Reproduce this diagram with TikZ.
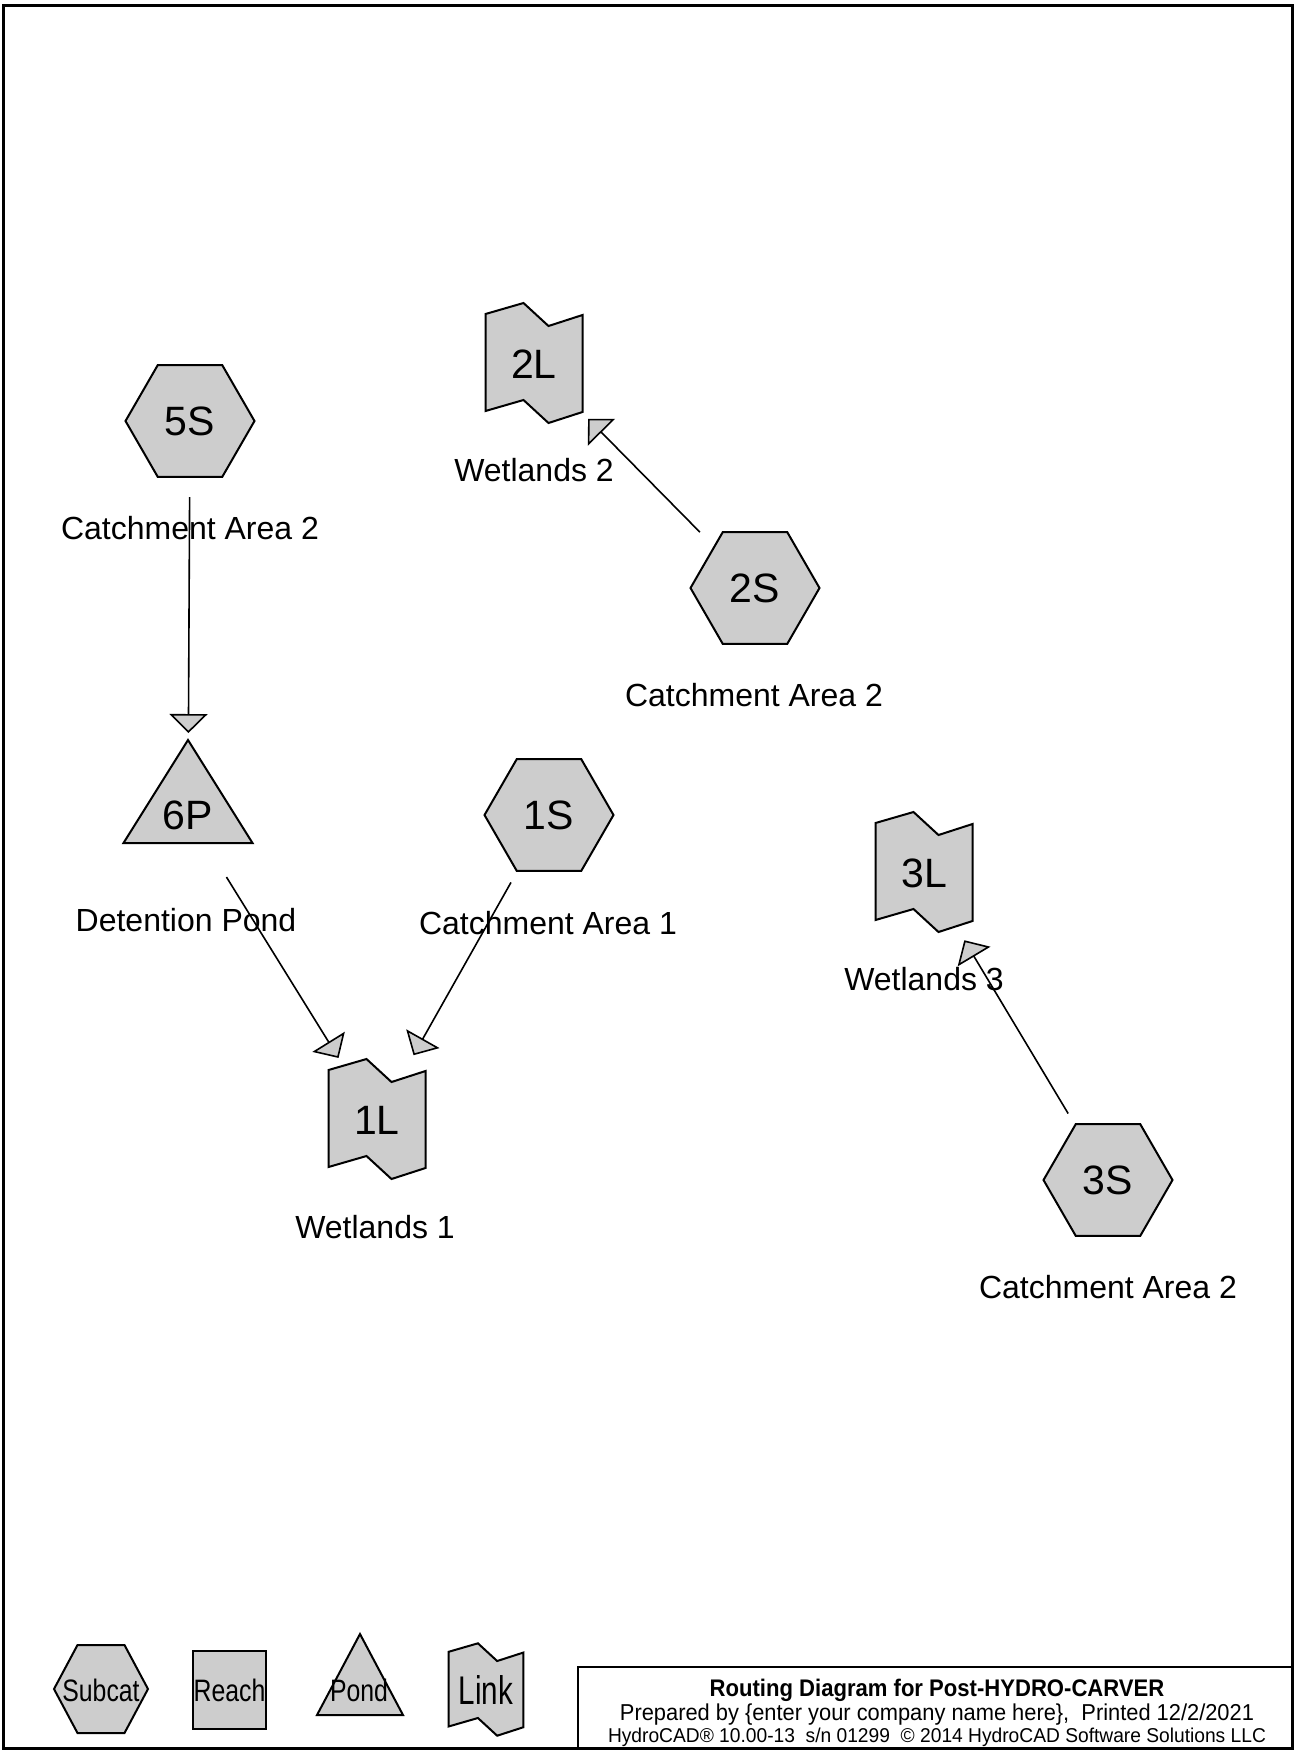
\documentclass[tikz,border=0pt]{standalone}
\usepackage{fontspec}
\setmainfont{Liberation Sans}
\usepackage{graphicx}
\usetikzlibrary{arrows.meta}
\definecolor{hcgray}{RGB}{205,205,205}
\tikzset{
  shp/.style={draw=black,line width=1pt,fill=hcgray,line join=miter},
  ntext/.style={inner sep=0pt,font=\fontsize{20.5pt}{23pt}\selectfont},
  lbl/.style={inner sep=0pt,font=\fontsize{16pt}{19pt}\selectfont},
  legtext/.style={inner sep=0pt,font=\fontsize{15.5pt}{18pt}\selectfont},
  flow/.style={draw=black,line width=0.8pt,-{Triangle[length=9.5pt,width=19pt,fill=hcgray]}},
  hexshape/.pic={\draw[shp] (-64.5,0) -- (-32.25,-55.86) -- (32.25,-55.86) -- (64.5,0) -- (32.25,55.86) -- (-32.25,55.86) -- cycle;},
  pondshape/.pic={\draw[shp] (0,-75) -- (64.5,28) -- (-64.5,28) -- cycle;},
  linkshape/.pic={\draw[shp] (-48.5,-49) -- (-10.5,-60) -- (14.5,-37) -- (48.5,-48) -- (48.5,49) -- (14.5,60) -- (-10.5,37) -- (-48.5,48) -- cycle;},
  leghex/.pic={\draw[shp] (-47,0) -- (-23.5,-44) -- (23.5,-44) -- (47,0) -- (23.5,44) -- (-23.5,44) -- cycle;},
  legpond/.pic={\draw[shp] (0,-57) -- (43,24) -- (-43,24) -- cycle;},
  legreach/.pic={\draw[shp] (-36.5,-39) rectangle (36.5,39);}
}
\begin{document}
\begin{tikzpicture}[x=0.5pt,y=-0.5pt]
\useasboundingbox (0,0) rectangle (1296,1751);
\draw[line width=1.5pt] (3,5) rectangle (1292,1748);

% nodes
\pic at (190,421) {hexshape};
\node[ntext] (5S) at (190,421) {5S};
\node[lbl] (5Sl) at (190,528) {Catchment Area 2};

\pic at (534,363) {linkshape};
\node[ntext] (2L) at (534,364) {2L};
\node[lbl] (2Ll) at (534,470) {Wetlands 2};

\pic at (755,588) {hexshape};
\node[ntext] (2S) at (755,588) {2S};
\node[lbl] (2Sl) at (754,695) {Catchment Area 2};

\pic at (188,815) {pondshape};
\node[ntext] (6P) at (188,815) {6P};
\node[lbl] (6Pl) at (186,920) {Detention Pond};

\pic at (549,815) {hexshape};
\node[ntext] (1S) at (549,815) {1S};
\node[lbl] (1Sl) at (548,923) {Catchment Area 1};

\pic at (377,1119) {linkshape};
\node[ntext] (1L) at (377,1120) {1L};
\node[lbl] (1Ll) at (375,1227) {Wetlands 1};

\pic at (924,872) {linkshape};
\node[ntext] (3L) at (924,873) {3L};
\node[lbl] (3Ll) at (924,979) {Wetlands 3};

\pic at (1108,1180) {hexshape};
\node[ntext] (3S) at (1108,1180) {3S};
\node[lbl] (3Sl) at (1108,1287) {Catchment Area 2};

% connectors
\draw[flow,shorten <=38pt,shorten >=41pt] (5S.center) -- (6P.center);
\draw[flow,shorten <=39.25pt,shorten >=38.5pt] (2S.center) -- (2L.center);
\draw[flow,shorten <=36.5pt,shorten >=36.5pt] (6P.center) -- (1L.center);
\draw[flow,shorten <=38.7pt,shorten >=37.2pt] (1S.center) -- (1L.center);
\draw[flow,shorten <=38.75pt,shorten >=39.2pt] (3S.center) -- (3L.center);

% legend
\pic at (101,1689) {leghex};
\node[legtext] (lgS) at (101,1690) {\scalebox{0.8}[1]{Subcat}};
\pic at (229.5,1690) {legreach};
\node[legtext] (lgR) at (229.5,1690) {\scalebox{0.8}[1]{Reach}};
\pic at (360,1691) {legpond};
\node[legtext] (lgP) at (359,1690) {\scalebox{0.8}[1]{Pond}};
\pic[scale=0.77] at (486,1689.5) {linkshape};
\node[inner sep=0pt,font=\fontsize{20pt}{23pt}\selectfont] (lgL) at (486,1690) {\scalebox{0.74}[1]{Link}};

% title block
\draw[line width=1pt] (578,1667) rectangle (1292,1748);
\node[inner sep=0pt,anchor=base,font=\fontsize{12pt}{14pt}\selectfont\bfseries] (t1) at (937,1696) {\scalebox{0.92}[1]{Routing Diagram for Post-HYDRO-CARVER}};
\node[inner sep=0pt,anchor=base,font=\fontsize{11.5pt}{13pt}\selectfont] (t2) at (937,1720) {\scalebox{0.95}[1]{Prepared by \{enter your company name here\},\ \ Printed 12/2/2021}};
\node[inner sep=0pt,anchor=base,font=\fontsize{10pt}{12pt}\selectfont] (t3) at (937,1742) {\scalebox{0.96}[1]{HydroCAD® 10.00-13\ \ s/n 01299\ \ © 2014 HydroCAD Software Solutions LLC}};
\end{tikzpicture}
\end{document}
